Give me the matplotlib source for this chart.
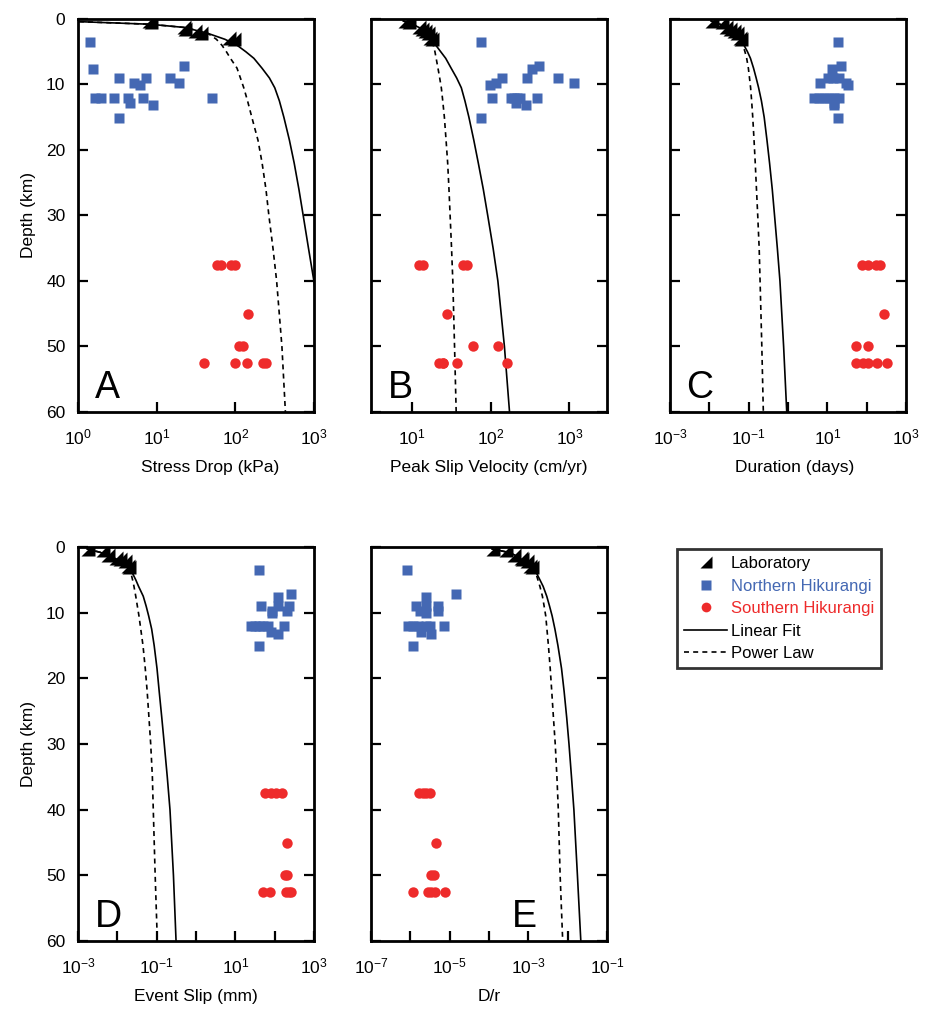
import numpy as np
import matplotlib
matplotlib.use("Agg")
import matplotlib.pyplot as plt
from matplotlib.lines import Line2D
from matplotlib.ticker import FixedLocator, LogFormatterMathtext, NullFormatter, NullLocator

plt.rcParams['font.family'] = ['Liberation Sans', 'DejaVu Sans']
plt.rcParams['mathtext.fontset'] = 'custom'
plt.rcParams['mathtext.rm'] = 'Liberation Sans'
plt.rcParams['mathtext.it'] = 'Liberation Sans:italic'
plt.rcParams['mathtext.bf'] = 'Liberation Sans:bold'

BLUE = '#4468b3'
RED = '#ee2b2b'

# depths (km)
lab_depth = [0.3, 0.5, 1.2, 1.6, 1.9, 2.1, 2.9, 3.1]
north_depth = [3.5, 7.1, 7.6, 9.0, 9.0, 9.0, 9.7, 9.7, 10.1,
               12.0, 12.0, 12.0, 12.0, 12.0, 12.0, 12.9, 13.2, 15.1]
south_depth = [37.5, 37.5, 37.5, 37.5, 45.0, 50.0, 50.0,
               52.5, 52.5, 52.5, 52.5, 52.5]
curve_depth = [0.3, 0.8, 1.3, 2.2, 3.1, 4, 5, 6, 7.5, 9, 10.5, 12.5, 15,
               18.5, 22, 26, 30, 35, 40, 50, 60]

# A - stress drop (kPa)
stress_lab = [8.0, 8.4, 22, 23, 31, 37, 84, 97]
stress_north = [1.42, 22, 1.53, 3.3, 7.4, 14.9, 5.1, 19, 6.2,
                1.64, 1.94, 2.83, 4.3, 6.8, 50.7, 4.55, 8.9, 3.3]
stress_south = [58.6, 65.9, 88, 100, 147, 112, 127, 40.5, 100, 139, 222, 244]
stress_linear = [0.6, 8.2, 22.9, 44.9, 73.8, 105, 136, 172, 218, 271, 317, 363, 414,
                 487, 560, 643, 729, 851, 997, 1297, 1640]
stress_power = [0.6, 8.2, 22.9, 44.9, 57.5, 67.5, 77, 86.6, 105, 116, 128, 143, 162,
                194, 219, 245, 267, 301, 335, 391, 433]

# B - peak slip velocity (cm/yr)
vel_lab = [8.0, 9.0, 12.3, 13.4, 14.6, 16.0, 16.9, 17.9]
vel_north = [75, 410, 337, 137, 290, 719, 116, 1157, 97,
             105, 180, 195, 215, 235, 390, 207, 283, 75]
vel_south = [12.4, 13.6, 44.6, 49.7, 27.5, 58.6, 122, 22.2, 24.5, 24.5, 36.8, 163]
vel_linear = [7.7, 10.0, 12.3, 14.2, 17.4, 20.0, 23.1, 26.7, 31.3, 36.8, 42.2, 46.9, 52.7,
              60.8, 69.4, 80.3, 91.4, 107, 123, 149, 173]
vel_power = [7.7, 10.0, 12.3, 14.2, 17.4, 18.6, 19.5, 20.2, 21.3, 22.4, 23.5, 24.5, 25.7,
             27.0, 28.3, 29.4, 30.4, 31.7, 32.9, 34.6, 36.3]

# C - duration (days)
dur_lab = [0.0114, 0.0216, 0.0272, 0.033, 0.0417, 0.0506, 0.0592, 0.0653]
dur_north = [19, 22.2, 13.2, 10.2, 13.6, 20.1, 6.65, 29.7, 32.7,
             4.7, 6.3, 8.4, 11.2, 15.0, 20.1, 14.5, 15.0, 19.0]
dur_south = [78, 105, 171, 216, 277, 55, 109, 55, 81, 105, 187, 336]
dur_linear = [0.011, 0.0187, 0.025, 0.0377, 0.0637, 0.076, 0.0933, 0.111, 0.133, 0.155,
              0.179, 0.211, 0.248, 0.292, 0.34, 0.398, 0.455, 0.536, 0.624, 0.774, 0.929]
dur_power = [0.011, 0.0187, 0.025, 0.0377, 0.0637, 0.0716, 0.0805, 0.089, 0.0982, 0.105,
             0.112, 0.119, 0.127, 0.137, 0.147, 0.158, 0.170, 0.185, 0.195, 0.216, 0.236]

# D - event slip (mm)
slip_lab = [0.00182, 0.00437, 0.00585, 0.0095, 0.0116, 0.0155, 0.0188, 0.020]
slip_north = [40.5, 257, 125, 44.8, 125, 233, 84.7, 211, 88,
              25, 32, 40.5, 51, 66, 174, 80, 123, 40.5]
slip_south = [57, 80, 107, 152, 203, 185, 205, 52, 75.5, 192, 233, 257]
slip_linear = [0.0017, 0.0036, 0.0065, 0.0117, 0.0198, 0.0243, 0.0294, 0.0347, 0.0456,
               0.054, 0.0626, 0.0746, 0.0864, 0.102, 0.116, 0.135, 0.156, 0.186, 0.218,
               0.267, 0.311]
slip_power = [0.0017, 0.0036, 0.0065, 0.0117, 0.0198, 0.0222, 0.0244, 0.0265, 0.0294,
              0.0323, 0.0355, 0.0394, 0.0449, 0.0513, 0.0574, 0.0637, 0.0705, 0.0778,
              0.082, 0.0916, 0.104]

# E - D/r
dr_lab = [1.25e-4, 2.65e-4, 4.3e-4, 6.35e-4, 7.0e-4, 9.3e-4, 1.13e-3, 1.25e-3]
dr_north = [8.0e-7, 1.48e-5, 2.57e-6, 1.38e-6, 2.57e-6, 5.06e-6, 1.74e-6, 5.06e-6, 2.57e-6,
            8.5e-7, 1.14e-6, 1.58e-6, 2.57e-6, 3.12e-6, 7.05e-6, 1.92e-6, 3.3e-6, 1.14e-6]
dr_south = [1.67e-6, 2.04e-6, 2.57e-6, 3.12e-6, 4.43e-6, 3.3e-6, 3.94e-6,
            1.18e-6, 2.83e-6, 3.3e-6, 4.17e-6, 7.46e-6]
dr_linear = [1.19e-4, 3.03e-4, 4.84e-4, 7.73e-4, 1.31e-3, 1.62e-3, 1.97e-3, 2.38e-3,
             2.94e-3, 3.46e-3, 4.03e-3, 4.74e-3, 5.65e-3, 6.98e-3, 8.13e-3, 9.46e-3,
             0.0108, 0.0125, 0.0144, 0.0177, 0.0216]
dr_power = [1.19e-4, 3.03e-4, 4.84e-4, 7.73e-4, 1.31e-3, 1.56e-3, 1.75e-3, 1.97e-3,
            2.28e-3, 2.52e-3, 2.77e-3, 2.97e-3, 3.24e-3, 3.6e-3, 3.94e-3, 4.35e-3,
            4.83e-3, 5.33e-3, 5.78e-3, 6.43e-3, 7.48e-3]

W, H = 928, 1010
fig = plt.figure(figsize=(W / 100, H / 100), dpi=100)


def rect(l, r, t, b):
    return [l / W, 1 - b / H, (r - l) / W, (b - t) / H]


tri = [(-1, -1), (1, -1), (1, 1)]


def panel(box, lab, north, south, lin, pw, xlim, major, minor, xlabel, letter,
          letter_x, ylabels, xlabel_x=0.5):
    ax = fig.add_axes(rect(*box))
    ax.plot(lin, curve_depth, color='black', lw=1.2, zorder=2)
    ax.plot(pw, curve_depth, color='black', lw=1.2, ls=(0, (3, 2.5)), zorder=2)
    ax.plot(north, north_depth, ls='none', marker='s', ms=7.5, color=BLUE, mec='none', zorder=3)
    ax.plot(south, south_depth, ls='none', marker='o', ms=7.5, color=RED, mec='none', zorder=3)
    ax.plot(lab, lab_depth, ls='none', marker=tri, ms=9.5, color='black', mec='none', zorder=4)
    ax.set_xscale('log')
    ax.set_xlim(*xlim)
    ax.set_ylim(60, 0)
    ax.xaxis.set_major_locator(FixedLocator(major))
    ax.xaxis.set_major_formatter(LogFormatterMathtext())
    if minor:
        ax.xaxis.set_minor_locator(FixedLocator(minor))
    else:
        ax.xaxis.set_minor_locator(NullLocator())
    ax.xaxis.set_minor_formatter(NullFormatter())
    ax.set_yticks([0, 10, 20, 30, 40, 50, 60])
    ax.tick_params(which='both', direction='in', top=False, right=True,
                   length=7, width=1.6, labelsize=12.5)
    ax.tick_params(axis='x', pad=11)
    ax.tick_params(axis='y', pad=9)
    if ylabels:
        ax.set_ylabel('Depth (km)', fontsize=12.5, labelpad=7)
    else:
        ax.tick_params(labelleft=False)
    ax.set_xlabel(xlabel, fontsize=12.5)
    ax.xaxis.set_label_coords(xlabel_x, -0.123)
    for s in ax.spines.values():
        s.set_linewidth(2)
    ax.text(letter_x, 0.035, letter, transform=ax.transAxes, fontsize=27,
            ha='left', va='baseline')
    return ax


panel((78, 314, 19, 412), stress_lab, stress_north, stress_south, stress_linear, stress_power,
      (1, 1000), [1, 10, 100, 1000], None, 'Stress Drop (kPa)', 'A', 0.07, True, 0.56)
panel((371, 607, 19, 412), vel_lab, vel_north, vel_south, vel_linear, vel_power,
      (3, 3000), [10, 100, 1000], None, 'Peak Slip Velocity (cm/yr)', 'B', 0.07, False)
panel((670, 906, 19, 412), dur_lab, dur_north, dur_south, dur_linear, dur_power,
      (1e-3, 1e3), [1e-3, 1e-1, 1e1, 1e3], [1e-2, 1, 1e2], 'Duration (days)', 'C', 0.07, False, 0.53)
panel((78, 314, 547, 941), slip_lab, slip_north, slip_south, slip_linear, slip_power,
      (1e-3, 1e3), [1e-3, 1e-1, 1e1, 1e3], [1e-2, 1, 1e2], 'Event Slip (mm)', 'D', 0.07, True)
panel((371, 607, 547, 941), dr_lab, dr_north, dr_south, dr_linear, dr_power,
      (1e-7, 1e-1), [1e-7, 1e-5, 1e-3, 1e-1], [1e-6, 1e-4, 1e-2], 'D/r', 'E', 0.595, False)

handles = [
    Line2D([], [], ls='none', marker=tri, ms=8, color='black', mec='none'),
    Line2D([], [], ls='none', marker='s', ms=7, color=BLUE, mec='none'),
    Line2D([], [], ls='none', marker='o', ms=7, color=RED, mec='none'),
    Line2D([], [], color='black', lw=1.2),
    Line2D([], [], color='black', lw=1.2, ls=(0, (3, 2.5))),
]
labels = ['Laboratory', 'Northern Hikurangi', 'Southern Hikurangi', 'Linear Fit', 'Power Law']
leg = fig.legend(handles, labels, loc='upper left', bbox_to_anchor=(677 / W, 1 - 549 / H),
                 fontsize=12, frameon=True, fancybox=False, handlelength=2.6,
                 handletextpad=0.2, labelspacing=0.45, borderpad=0.42, borderaxespad=0)
leg.get_frame().set_edgecolor('black')
leg.get_frame().set_linewidth(2)
leg.get_texts()[1].set_color(BLUE)
leg.get_texts()[2].set_color(RED)

fig.savefig('out.png', dpi=100)
